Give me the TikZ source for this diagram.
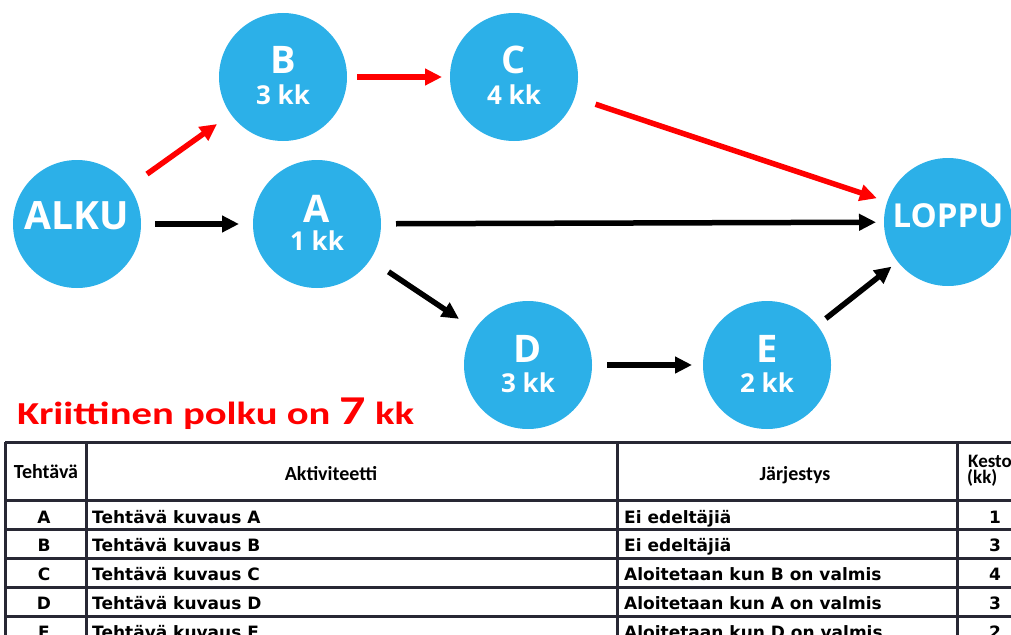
\documentclass[tikz,border=0pt]{standalone}
\usepackage{fontspec}
\usepackage{graphicx}
\setmainfont{Carlito}
\newfontfamily\circfont{Open Sans}
\newfontfamily\cellfont{DejaVu Sans}
\usetikzlibrary{arrows.meta}
\definecolor{nodeblue}{RGB}{44,176,232}
\definecolor{gridcol}{RGB}{40,40,52}
\definecolor{critred}{RGB}{255,0,0}
\begin{document}
\begin{tikzpicture}[x=1pt,y=-1pt,
  event/.style={circle,fill=nodeblue,minimum size=128pt,inner sep=0pt,outer sep=0pt},
  evname/.style={anchor=base,text=white,inner sep=0pt,font=\circfont\bfseries\fontsize{38}{38}\selectfont},
  evend/.style={evname,font=\circfont\bfseries\fontsize{#1}{#1}\selectfont},
  evtime/.style={anchor=base,text=white,inner sep=0pt,font=\circfont\bfseries\fontsize{26}{26}\selectfont},
  link/.style={line width=5.5pt,-{Triangle[length=17pt,width=16pt]}},
  crit/.style={link,critred},
  gap/.style 2 args={shorten <=#1pt,shorten >=#2pt},
  grid/.style={draw=gridcol,line width=3pt},
  headcell/.style={anchor=base,inner sep=0pt,font=\bfseries\fontsize{20}{20}\selectfont},
  cell/.style={anchor=base west,inner sep=0pt,font=\cellfont\bfseries\fontsize{17}{17}\selectfont},
  midcell/.style={cell,anchor=base}
]
\useasboundingbox (0,0) rectangle (1011,634);
\clip (0,0) rectangle (1011,634);

% --- network of events ---
\node[event] (alku)  at (77,224)  {};
\node[event] (b)     at (283,77)  {};
\node[event] (c)     at (514,77)  {};
\node[event] (a)     at (317,224) {};
\node[event] (loppu) at (948,222) {};
\node[event] (d)     at (528,365) {};
\node[event] (e)     at (767,365) {};

\node[evend=39] (alkuT)  at ([yshift=-5pt]alku.center)  {ALKU};
\node[evend=33] (loppuT) at ([yshift=-5pt]loppu.center) {LOPPU};
\node[evname] (bT) at ([yshift=3pt]b.center) {B};
\node[evtime] (bD) at ([yshift=-27pt]b.center) {3 kk};
\node[evname] (cT) at ([yshift=3pt]c.center) {C};
\node[evtime] (cD) at ([yshift=-27pt]c.center) {4 kk};
\node[evname] (aT) at ([yshift=2pt]a.center) {A};
\node[evtime] (aD) at ([yshift=-26pt]a.center) {1 kk};
\node[evname] (dT) at ([yshift=3pt]d.center) {D};
\node[evtime] (dD) at ([yshift=-27pt]d.center) {3 kk};
\node[evname] (eT) at ([yshift=3pt]e.center) {E};
\node[evtime] (eD) at ([yshift=-27pt]e.center) {2 kk};

% --- dependencies ---
\draw[crit,gap={22}{17}] (alku) -- (b);
\draw[crit,gap={10}{8}]  (b) -- (c);
\draw[crit,gap={22}{11}] (c) -- (loppu);
\draw[link,gap={14}{14}] (alku) -- (a);
\draw[link,gap={15}{8}]  (a) -- (loppu);
\draw[link,gap={22}{19}] (a) -- (d);
\draw[link,gap={15}{11}] (d) -- (e);
\draw[link,gap={11}{8}]  (e) -- (loppu);

% --- critical path caption ---
\node[anchor=base west,inner sep=0pt,text=critred,font=\bfseries\fontsize{32}{32}\selectfont] (crittitle) at (17,424)
  {\scalebox{1.27}[1]{Kriittinen polku on {\fontsize{41}{41}\selectfont 7} kk}};

% --- task table ---
\foreach \yy in {442,500,529,558,587,616,645}
  \draw[grid] (5,\yy) -- (1030,\yy);
\foreach \xx in {5,86,617,957}
  \draw[grid] (\xx,442) -- (\xx,650);

\node[headcell] (hTask)  at (46,478)  {Tehtävä};
\node[headcell] (hAct)   at (331,480) {Aktiviteetti};
\node[headcell] (hOrder) at (795,480) {Järjestys};
\node[headcell,anchor=base west,font=\bfseries\fontsize{19}{19}\selectfont] (hDur1) at (968,467) {Kesto};
\node[headcell,anchor=base west,font=\bfseries\fontsize{19}{19}\selectfont] (hDur2) at (967,483) {(kk)};

\foreach \t/\pre/\dur [count=\i from 0] in
  {A/Ei edeltäjiä/1, B/Ei edeltäjiä/3, C/Aloitetaan kun B on valmis/4,
   D/Aloitetaan kun A on valmis/3, E/Aloitetaan kun D on valmis/2}{
  \node[midcell] (id\t)   at (44,523+28.8*\i)  {\t};
  \node[cell]    (desc\t) at (92,523+28.8*\i)  {Tehtävä kuvaus \t};
  \node[cell]    (pre\t)  at (624,523+28.8*\i) {\pre};
  \node[midcell] (dur\t)  at (995,523+28.8*\i) {\dur};
}
\end{tikzpicture}
\end{document}
